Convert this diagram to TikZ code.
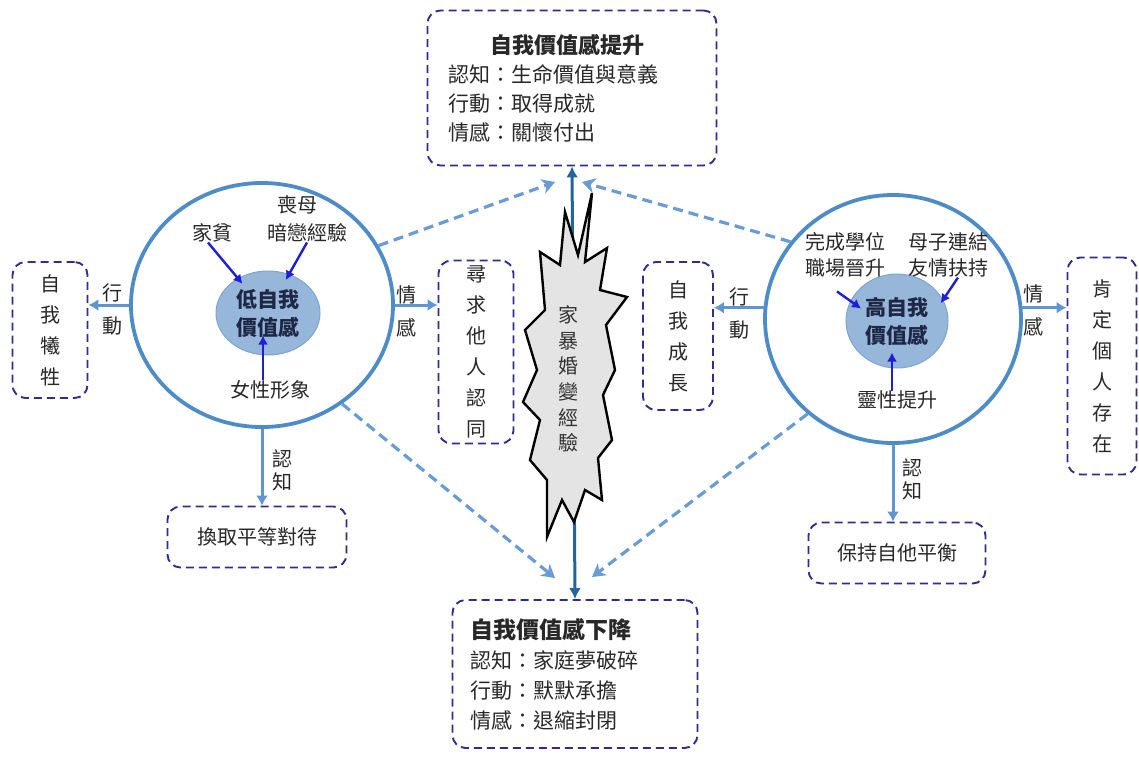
\documentclass[tikz,border=0pt]{standalone}
\usepackage{fontspec}
\setmainfont{Noto Sans CJK TC}
\usetikzlibrary{arrows.meta,shapes.geometric}
\definecolor{circc}{RGB}{78,140,200}
\definecolor{arrc}{RGB}{95,150,210}
\definecolor{dashc}{RGB}{105,155,212}
\definecolor{vlinec}{RGB}{34,100,158}
\definecolor{boxc}{RGB}{50,45,140}
\definecolor{innerf}{RGB}{150,182,218}
\definecolor{innerd}{RGB}{125,165,210}
\definecolor{inarr}{RGB}{30,30,215}
\definecolor{txt}{RGB}{40,40,40}
\definecolor{innert}{RGB}{30,40,70}
\definecolor{burstf}{RGB}{228,228,228}
\begin{document}
\begin{tikzpicture}[x=1pt,y=-1pt,text=txt,
  dbox/.style={draw=boxc, line width=1.9pt, dash pattern=on 8pt off 5pt, rounded corners=13pt, fill=white, inner sep=0pt},
  vbox/.style={dbox, align=center, font=\fontsize{20}{31}\selectfont},
  hbox/.style={dbox, font=\fontsize{20}{24}\selectfont},
  bigc/.style={draw=circc, line width=3.8pt, ellipse, fill=white, inner sep=0pt},
  innerc/.style={ellipse, fill=innerf, draw=innerd, line width=1pt, inner sep=0pt, align=center, text=innert, font=\fontsize{21}{28}\selectfont\bfseries},
  lab/.style={font=\fontsize{20}{24}\selectfont, align=center, inner sep=0pt},
  vlab/.style={font=\fontsize{20}{33}\selectfont, align=center, inner sep=0pt},
  klab/.style={font=\fontsize{20}{23}\selectfont, align=center, inner sep=0pt},
  sarr/.style={draw=arrc, line width=3pt, -{Latex[length=10pt,width=12pt]}},
  iarr/.style={draw=inarr, line width=2.4pt, -{Latex[length=9pt,width=10pt]}},
  darr/.style={draw=dashc, line width=3.2pt, dash pattern=on 10pt off 6pt, -{Stealth[length=13pt,width=15pt,inset=4pt]}},
  vline/.style={draw=vlinec, line width=3pt, {Latex[length=11pt,width=12pt]}-{Latex[length=11pt,width=12pt]}}
]
\useasboundingbox (0,0) rectangle (1139,756);
\fill[white] (0,0) rectangle (1139,756);

% top and bottom boxes
\node[dbox, minimum width=289pt, minimum height=155pt, text width=248pt, align=left,
      font=\fontsize{21}{29}\selectfont] (top) at (572,88)
  {\hspace*{2em}{\bfseries\fontsize{22}{29}\selectfont 自我價值感提升}\\認知：生命價值與意義\\行動：取得成就\\情感：關懷付出};
\node[dbox, minimum width=245pt, minimum height=148pt, text width=210pt, align=left,
      font=\fontsize{21}{30}\selectfont] (bot) at (575,674)
  {{\bfseries\fontsize{23}{30}\selectfont 自我價值感下降}\\認知：家庭夢破碎\\行動：默默承擔\\情感：退縮封閉};

% central vertical line
\draw[vline] (top.south) -- (bot.north);

% starburst
\draw[line width=2.4pt, fill=burstf, line join=miter, miter limit=6]
  (592,193) -- (585,262) -- (607,248) -- (600,290) -- (627,297) -- (606,325) --
  (615,370) -- (603,395) -- (612,440) -- (598,458) -- (602,500) -- (585,490) --
  (574,522) -- (562,500) -- (547,537) -- (547,480) -- (530,460) -- (540,420) --
  (523,402) -- (537,370) -- (525,330) -- (545,310) -- (540,252) -- (560,265) --
  (565,212) -- (578,255) -- cycle;
\node[font=\fontsize{20}{25.6}\selectfont, align=center, inner sep=0pt, text=black!80] (burst) at (568,379)
  {家\\暴\\婚\\變\\經\\驗};

% big circles
\node[bigc, minimum width=262pt, minimum height=244pt] (L) at (262,305) {};
\node[bigc, minimum width=256pt, minimum height=248pt] (R) at (893,319) {};

% inner circles
\node[innerc, minimum width=104pt, minimum height=84pt] (LI) at (268,313) {低自我\\價值感};
\node[innerc, minimum width=102pt, minimum height=94pt] (RI) at (897,321) {高自我\\價值感};

% left circle labels
\node[lab] (sm) at (297,205) {喪母};
\node[lab] (jp) at (212,233) {家貧};
\node[lab] (al) at (307,233) {暗戀經驗};
\node[lab] (nx) at (270,390) {女性形象};
\draw[iarr] ([xshift=-4pt]jp.south) -- ([shift={(4pt,-6pt)}]LI.130);
\draw[iarr] (al.south) -- ([shift={(-3pt,-6pt)}]LI.62);
\draw[iarr] ([xshift=-7pt]nx.north) -- ([shift={(-5pt,20pt)}]LI.south);

% right circle labels
\node[lab] (xw) at (845,242) {完成學位};
\node[lab] (zc) at (845,268) {職場晉升};
\node[lab] (mz) at (948,242) {母子連結};
\node[lab] (yq) at (948,268) {友情扶持};
\node[lab] (lx) at (897,400) {靈性提升};
\draw[iarr] ([shift={(-8pt,-14pt)}]zc.south) -- ([shift={(12pt,-5pt)}]RI.160);
\draw[iarr] ([xshift=10pt]yq.south) -- ([shift={(-3pt,-2pt)}]RI.23);
\draw[iarr] ([xshift=-5pt]lx.north) -- ([shift={(-5pt,16pt)}]RI.south);

% side boxes
\node[vbox, minimum width=75pt, minimum height=136pt] (zs) at (50,330) {自\\我\\犧\\牲};
\node[vbox, minimum width=75pt, minimum height=183pt] (xq) at (476,352) {尋\\求\\他\\人\\認\\同};
\node[vbox, minimum width=70pt, minimum height=148pt] (cz) at (678,336) {自\\我\\成\\長};
\node[vbox, minimum width=69pt, minimum height=217pt] (kd) at (1102,366) {肯\\定\\個\\人\\存\\在};
\node[hbox, minimum width=179pt, minimum height=61pt] (hq) at (257,537) {換取平等對待};
\node[hbox, minimum width=177pt, minimum height=61pt] (bc) at (897,553) {保持自他平衡};

% solid arrows
\draw[sarr] (L.west) -- (L.west -| zs.east);
\draw[sarr] (L.east) -- (L.east -| xq.west);
\draw[sarr] (L.south) -- (L.south |- hq.north);
\draw[sarr] (R.175) -- (R.175 -| cz.east);
\draw[sarr] (R.5) -- (R.5 -| kd.west);
\draw[sarr] (R.south) -- (R.south |- bc.north);

% arrow labels
\node[vlab] (l1) at (112,309) {行\\動};
\node[vlab] (l2) at (406,311) {情\\感};
\node[vlab] (l3) at (739,313) {行\\動};
\node[vlab] (l4) at (1033,310) {情\\感};
\node[klab] (l5) at (282,470) {認\\知};
\node[klab] (l6) at (912,479) {認\\知};

% dashed arrows
\coordinate (t1) at (555,182);
\coordinate (t2) at (582,182);
\coordinate (b1) at (555,578);
\coordinate (b2) at (592,577);
\draw[darr] (L.27) -- (t1);
\draw[darr] (R.143) -- (t2);
\draw[darr] (L.-51) -- (b1);
\draw[darr] (R.-132) -- (b2);
\end{tikzpicture}
\end{document}
